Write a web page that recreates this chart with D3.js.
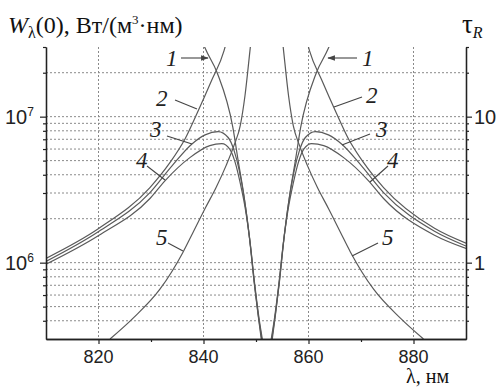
<!DOCTYPE html>
<html>
<head>
<meta charset="utf-8">
<script src="https://cdn.jsdelivr.net/npm/d3@7"></script>
<style>
  body { margin: 0; background: #fff; }
  svg { display: block; }
</style>
</head>
<body>
<svg id="chart" width="501" height="389"></svg>
<script>
// x axis (wavelength, nm) and y axis (W, W/(m^3 nm)); right axis tau_R = W / 1e6
const xTicks = [820, 840, 860, 880];
const xMinorTicks = [830, 850, 870];
const yLeftLabels = [{ v: 1e6, base: "10", sup: "6" }, { v: 1e7, base: "10", sup: "7" }];
const yRightLabels = [{ v: 1, t: "1" }, { v: 10, t: "10" }];

// curves, [lambda, W], left and right of the line centre
const curve1Left = [[839.5, 3.5e7], [840.3, 2.95e7], [842.6, 2.0e7], [845.6, 8.4e6], [846.6, 5.0e6], [847.7, 2.88e6], [848.7, 1.54e6], [849.6, 7.6e5], [850.4, 4.38e5], [851.0, 3.0e5]];
const curve1Right = [[853.1, 3.0e5], [853.7, 4.38e5], [854.5, 7.6e5], [855.4, 1.54e6], [856.4, 2.88e6], [857.5, 5.0e6], [858.5, 8.4e6], [861.5, 2.0e7], [863.8, 2.95e7], [864.6, 3.5e7]];

const curve2Left = [[810, 1.07e6], [820.1, 1.72e6], [829.8, 3.27e6], [833.6, 4.84e6], [836.5, 7.06e6], [838.8, 1.06e7], [841.6, 1.79e7], [843.9, 2.82e7], [844.5, 3.4e7]];
const curve2Right = [[859.6, 3.4e7], [860.2, 2.82e7], [862.5, 1.79e7], [865.3, 1.06e7], [867.6, 7.06e6], [870.5, 4.84e6], [874.3, 3.27e6], [884.0, 1.72e6], [890, 1.36e6]];

const curve3Left = [[810, 1.02e6], [820.1, 1.64e6], [829.8, 3.02e6], [834.0, 4.6e6], [837.8, 6.5e6], [840.3, 7.5e6], [842.8, 7.9e6], [844.7, 7.2e6], [845.8, 5.9e6], [846.8, 4.3e6], [847.8, 2.7e6], [848.8, 1.45e6], [849.7, 7.2e5], [850.5, 4.2e5], [851.1, 3.0e5]];
const curve3Right = [[853.0, 3.0e5], [853.6, 4.2e5], [854.4, 7.2e5], [855.3, 1.45e6], [856.3, 2.7e6], [857.3, 4.3e6], [858.3, 5.9e6], [859.4, 7.2e6], [861.3, 7.9e6], [863.8, 7.5e6], [866.3, 6.5e6], [870.1, 4.6e6], [874.3, 3.02e6], [884.0, 1.64e6], [890, 1.3e6]];

const curve4Left = [[810, 9.75e5], [820.1, 1.54e6], [829.8, 2.75e6], [832.7, 3.65e6], [837.4, 5.24e6], [841.2, 6.33e6], [843.5, 6.53e6], [845.0, 6.0e6], [846.0, 4.9e6], [847.0, 3.5e6], [848.0, 2.3e6], [848.9, 1.35e6], [849.8, 6.9e5], [850.6, 4.1e5], [851.2, 3.0e5]];
const curve4Right = [[852.9, 3.0e5], [853.5, 4.1e5], [854.3, 6.9e5], [855.2, 1.35e6], [856.1, 2.3e6], [857.1, 3.5e6], [858.1, 4.9e6], [859.1, 6.0e6], [860.6, 6.53e6], [862.9, 6.33e6], [866.7, 5.24e6], [871.4, 3.65e6], [874.3, 2.75e6], [884.0, 1.54e6], [890, 1.25e6]];

const curve5Left = [[822.2, 3.0e5], [826.6, 4.17e5], [831.7, 6.58e5], [836.1, 1.18e6], [838.0, 1.61e6], [840.3, 2.35e6], [842.4, 3.27e6], [844.3, 4.62e6], [845.8, 6.33e6], [847.0, 8.67e6], [847.9, 1.39e7], [848.9, 2.95e7], [849.3, 4.0e7]];
const curve5Right = [[854.8, 4.0e7], [855.2, 2.95e7], [856.2, 1.39e7], [857.1, 8.67e6], [858.3, 6.33e6], [859.8, 4.62e6], [861.7, 3.27e6], [863.8, 2.35e6], [866.1, 1.61e6], [868.0, 1.18e6], [872.4, 6.58e5], [877.5, 4.17e5], [881.9, 3.0e5]];

const curves = [curve1Left, curve1Right, curve2Left, curve2Right, curve3Left, curve3Right,
                curve4Left, curve4Right, curve5Left, curve5Right];

// curve number labels: text position and leader line (pixels)
const curveLabels = [
  { t: "1", x: 166, y: 66, from: [181, 58], to: [208, 58], arrow: true },
  { t: "2", x: 156, y: 106, from: [175, 100], to: [197, 109] },
  { t: "3", x: 150, y: 137, from: [167, 136], to: [192, 144] },
  { t: "4", x: 136, y: 168, from: [147, 166], to: [165, 180] },
  { t: "5", x: 156, y: 245, from: [168, 243], to: [183, 251] },
  { t: "1", x: 362, y: 66, from: [357, 58], to: [328, 58], arrow: true },
  { t: "2", x: 366, y: 103, from: [362, 97], to: [334, 107] },
  { t: "3", x: 376, y: 137, from: [370, 134], to: [342, 145] },
  { t: "4", x: 387, y: 168, from: [388, 166], to: [370, 182] },
  { t: "5", x: 382, y: 245, from: [378, 243], to: [352, 256] }
];

const svg = d3.select("#chart");
const margin = { left: 46, right: 35, top: 47, bottom: 50 };
const W = 501, H = 389;

const x = d3.scaleLinear().domain([810, 890]).range([margin.left, W - margin.right]);
const y = d3.scaleLog().domain([3e5, 3e7]).range([H - margin.bottom, margin.top]);
const yR = d3.scaleLog().domain([0.3, 30]).range([H - margin.bottom, margin.top]);

const x0 = x.range()[0], x1 = x.range()[1];
const yb = y.range()[0], yt = y.range()[1];

svg.append("defs").append("clipPath").attr("id", "plot")
  .append("rect").attr("x", x0).attr("y", yt).attr("width", x1 - x0).attr("height", yb - yt);

svg.select("defs").append("marker")
  .attr("id", "arrow").attr("viewBox", "0 0 10 10").attr("refX", 9).attr("refY", 5)
  .attr("markerWidth", 7).attr("markerHeight", 7).attr("orient", "auto")
  .append("path").attr("d", "M0,1.5 L10,5 L0,8.5 Z").attr("fill", "#444");

// grid
const gridVals = y.ticks().filter((v) => v > 3e5 && v < 3e7);
svg.append("g").selectAll("line").data(gridVals).join("line")
  .attr("x1", x0).attr("x2", x1)
  .attr("y1", (d) => y(d)).attr("y2", (d) => y(d))
  .attr("stroke", "#8a8a8a").attr("stroke-width", 1).attr("stroke-dasharray", "2,2");
svg.append("g").selectAll("line").data(xTicks).join("line")
  .attr("x1", (d) => x(d)).attr("x2", (d) => x(d))
  .attr("y1", yt).attr("y2", yb)
  .attr("stroke", "#8a8a8a").attr("stroke-width", 1).attr("stroke-dasharray", "2,2");

// curves
const line = d3.line().x((d) => x(d[0])).y((d) => y(d[1])).curve(d3.curveMonotoneX);
svg.append("g").attr("clip-path", "url(#plot)")
  .selectAll("path").data(curves).join("path")
  .attr("d", line).attr("fill", "none").attr("stroke", "#5a5a5a").attr("stroke-width", 1.2);

// axes
const axisStyle = (g) => {
  g.select(".domain").attr("stroke", "#222").attr("stroke-width", 1.3);
  g.selectAll(".tick line").attr("stroke", "#222").attr("stroke-width", 1.2);
  g.selectAll(".tick text").remove();
};
const majorY = [1e6, 1e7];
const minorY = gridVals.concat([3e7]).filter((v) => !majorY.includes(v));
svg.append("g").attr("transform", `translate(${x0},0)`)
  .call(d3.axisLeft(y).tickValues(minorY).tickSize(3).tickSizeOuter(0)).call(axisStyle);
svg.append("g").attr("transform", `translate(${x0},0)`)
  .call(d3.axisLeft(y).tickValues(majorY).tickSize(6).tickSizeOuter(0)).call(axisStyle);
svg.append("g").attr("transform", `translate(${x1},0)`)
  .call(d3.axisRight(y).tickValues(minorY).tickSize(3).tickSizeOuter(0)).call(axisStyle);
svg.append("g").attr("transform", `translate(${x1},0)`)
  .call(d3.axisRight(yR).tickValues([1, 10]).tickSize(6).tickSizeOuter(0)).call(axisStyle);
svg.append("g").attr("transform", `translate(0,${yb})`)
  .call(d3.axisBottom(x).tickValues(xTicks).tickSize(5).tickSizeOuter(0)).call(axisStyle);
svg.append("g").attr("transform", `translate(0,${yb})`)
  .call(d3.axisBottom(x).tickValues(xMinorTicks).tickSize(3).tickSizeOuter(0)).call(axisStyle);

// tick labels
const sans = "'Liberation Sans', Arial, sans-serif";
const serif = "'Liberation Serif', 'Times New Roman', serif";
svg.append("g").selectAll("text").data(xTicks).join("text")
  .attr("x", (d) => x(d)).attr("y", yb + 24).attr("text-anchor", "middle")
  .attr("font-family", sans).attr("font-size", 18).attr("fill", "#222")
  .text((d) => d);

const yl = svg.append("g").selectAll("text").data(yLeftLabels).join("text")
  .attr("x", 5).attr("y", (d) => y(d.v) + 7)
  .attr("font-family", sans).attr("font-size", 20).attr("fill", "#222");
yl.append("tspan").text((d) => d.base);
yl.append("tspan").attr("dy", -8).attr("font-size", 12).text((d) => d.sup);

svg.append("g").selectAll("text").data(yRightLabels).join("text")
  .attr("x", x1 + 8).attr("y", (d) => yR(d.v) + 7)
  .attr("font-family", sans).attr("font-size", 20).attr("fill", "#222")
  .text((d) => d.t);

// axis titles
const tl = svg.append("text").attr("x", 8).attr("y", 33)
  .attr("font-family", serif).attr("font-size", 24).attr("fill", "#111");
tl.append("tspan").attr("font-style", "italic").text("W");
tl.append("tspan").attr("dy", 5).attr("font-size", 16).text("λ");
tl.append("tspan").attr("dy", -5).text("(0), Вт/(м");
tl.append("tspan").attr("dy", -9).attr("font-size", 13).text("3");
tl.append("tspan").attr("dy", 9).text("·нм)");

const tr = svg.append("text").attr("x", 462).attr("y", 33)
  .attr("font-family", serif).attr("font-size", 27).attr("fill", "#111");
tr.append("tspan").text("τ");
tr.append("tspan").attr("dy", 5).attr("font-size", 16).attr("font-style", "italic").text("R");

svg.append("text").attr("x", 406).attr("y", 383)
  .attr("font-family", serif).attr("font-size", 20).attr("fill", "#111")
  .text("λ, нм");

// curve labels
const lab = svg.append("g");
lab.selectAll("line").data(curveLabels).join("line")
  .attr("x1", (d) => d.from[0]).attr("y1", (d) => d.from[1])
  .attr("x2", (d) => d.to[0]).attr("y2", (d) => d.to[1])
  .attr("stroke", "#444").attr("stroke-width", 1.1)
  .attr("marker-end", (d) => (d.arrow ? "url(#arrow)" : null));
lab.selectAll("text").data(curveLabels).join("text")
  .attr("x", (d) => d.x).attr("y", (d) => d.y)
  .attr("font-family", serif).attr("font-style", "italic").attr("font-size", 23).attr("fill", "#222")
  .text((d) => d.t);
</script>
</body>
</html>
